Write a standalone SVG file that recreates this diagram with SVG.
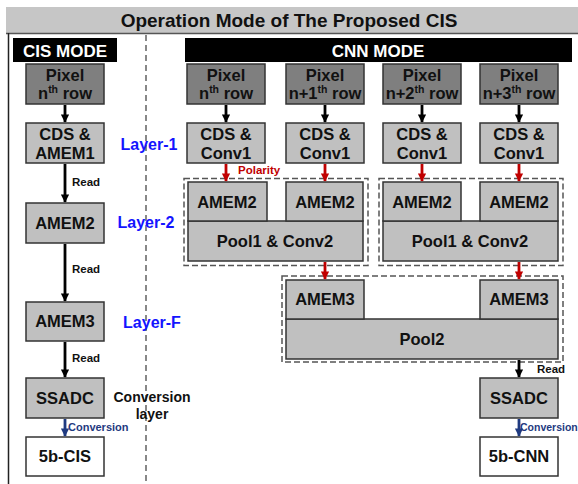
<svg xmlns="http://www.w3.org/2000/svg" width="578" height="484" viewBox="0 0 578 484">
<defs>
<style>
text{font-family:"Liberation Sans",Arial,sans-serif;font-weight:bold;}
.t{font-size:16.5px;fill:#111;text-anchor:middle;}
.px{fill:#7f7f7f;stroke:#333;stroke-width:1.5;}
.lg{fill:#c0c0c0;stroke:#333;stroke-width:1.5;}
.wh{fill:#fff;stroke:#333;stroke-width:1.5;}
.dash{fill:none;stroke:#555;stroke-width:1.5;stroke-dasharray:6,3;}
.blk{stroke:#000;stroke-width:2.8;fill:none;}
.red{stroke:#c00000;stroke-width:2.8;fill:none;}
.blu{stroke:#1f3a80;stroke-width:2.8;fill:none;}
.lay{font-size:16px;fill:#1414ff;text-anchor:middle;}
.sm{font-size:11.5px;fill:#111;}
.sup{font-size:10.5px;}
</style>
<marker id="ab" viewBox="0 0 10 10" refX="9" refY="5" markerWidth="3" markerHeight="3" orient="auto"><path d="M0,0L10,5L0,10z" fill="#000"/></marker>
<marker id="ar" viewBox="0 0 10 10" refX="9" refY="5" markerWidth="3" markerHeight="3" orient="auto"><path d="M0,0L10,5L0,10z" fill="#c00000"/></marker>
<marker id="au" viewBox="0 0 10 10" refX="9" refY="5" markerWidth="3" markerHeight="3" orient="auto"><path d="M0,0L10,5L0,10z" fill="#1f3a80"/></marker>
</defs>
<rect width="578" height="484" fill="#fff"/>
<g id="frame">
<rect x="6" y="7" width="580" height="26" fill="#c6c6c6"/>
<line x1="6" y1="33.5" x2="578" y2="33.5" stroke="#555" stroke-width="1.5"/>
<line x1="8.5" y1="33" x2="8.5" y2="484" stroke="#222" stroke-width="1.5"/>
<text x="289" y="27" style="font-size:19px;fill:#111;text-anchor:middle">Operation Mode of The Proposed CIS</text>
<line x1="146" y1="35" x2="146" y2="484" stroke="#888" stroke-width="2" stroke-dasharray="6,4"/>
</g>
<g id="cis-mode">
<rect x="13" y="38" width="104" height="24" fill="#000"/>
<text x="65" y="56.5" style="font-size:17px;fill:#fff;text-anchor:middle">CIS MODE</text>
</g>
<g id="cnn-mode">
<rect x="185" y="38" width="387" height="24" fill="#000"/>
<text x="378" y="56.5" style="font-size:17px;fill:#fff;text-anchor:middle">CNN MODE</text>
</g>
<g id="layer-labels">
<text class="lay" x="149" y="150">Layer-1</text>
<text class="lay" x="146" y="228">Layer-2</text>
<text class="lay" x="152" y="328">Layer-F</text>
<text x="152" y="402" style="font-size:14px;fill:#111;text-anchor:middle">Conversion</text>
<text x="152" y="419" style="font-size:14px;fill:#111;text-anchor:middle">layer</text>
</g>
<g id="cis-pixel"><rect class="px" x="26" y="64" width="78" height="40"/><text class="t" x="65" y="81">Pixel</text><text class="t" x="65" y="99">n<tspan class="sup" dy="-6">th</tspan><tspan dy="6"> row</tspan></text></g>
<g id="cis-cds"><rect class="lg" x="26" y="123" width="78" height="40"/><text class="t" x="65" y="140">CDS &amp;</text><text class="t" x="65" y="159">AMEM1</text></g>
<g id="cis-amem2"><rect class="lg" x="26" y="203" width="78" height="40"/><text class="t" x="65" y="229">AMEM2</text></g>
<g id="cis-amem3"><rect class="lg" x="26" y="302" width="78" height="39"/><text class="t" x="65" y="327">AMEM3</text></g>
<g id="cis-ssadc"><rect class="lg" x="26" y="378" width="78" height="40"/><text class="t" x="65" y="404">SSADC</text></g>
<g id="cis-out"><rect class="wh" x="26" y="437" width="78" height="39"/><text class="t" x="65" y="462">5b-CIS</text></g>
<g id="cnn-pixel-1"><rect class="px" x="187" y="64" width="78" height="40"/><text class="t" x="226" y="81">Pixel</text><text class="t" x="226" y="99">n<tspan class="sup" dy="-6">th</tspan><tspan dy="6"> row</tspan></text></g>
<g id="cnn-pixel-2"><rect class="px" x="286" y="64" width="78" height="40"/><text class="t" x="325" y="81">Pixel</text><text class="t" x="325" y="99">n+1<tspan class="sup" dy="-6">th</tspan><tspan dy="6"> row</tspan></text></g>
<g id="cnn-pixel-3"><rect class="px" x="383" y="64" width="78" height="40"/><text class="t" x="422" y="81">Pixel</text><text class="t" x="422" y="99">n+2<tspan class="sup" dy="-6">th</tspan><tspan dy="6"> row</tspan></text></g>
<g id="cnn-pixel-4"><rect class="px" x="480" y="64" width="78" height="40"/><text class="t" x="519" y="81">Pixel</text><text class="t" x="519" y="99">n+3<tspan class="sup" dy="-6">th</tspan><tspan dy="6"> row</tspan></text></g>
<g id="cnn-cds-1"><rect class="lg" x="187" y="123" width="78" height="40"/><text class="t" x="226" y="140">CDS &amp;</text><text class="t" x="226" y="159">Conv1</text></g>
<g id="cnn-cds-2"><rect class="lg" x="286" y="123" width="78" height="40"/><text class="t" x="325" y="140">CDS &amp;</text><text class="t" x="325" y="159">Conv1</text></g>
<g id="cnn-cds-3"><rect class="lg" x="383" y="123" width="78" height="40"/><text class="t" x="422" y="140">CDS &amp;</text><text class="t" x="422" y="159">Conv1</text></g>
<g id="cnn-cds-4"><rect class="lg" x="480" y="123" width="78" height="40"/><text class="t" x="519" y="140">CDS &amp;</text><text class="t" x="519" y="159">Conv1</text></g>
<g id="group-1">
<rect class="dash" x="184" y="178.5" width="184" height="87"/>
<rect class="lg" x="188" y="221" width="175" height="40"/>
<rect class="lg" x="188" y="182" width="79" height="39"/>
<rect class="lg" x="286" y="182" width="77" height="39"/>
<text class="t" x="227" y="208">AMEM2</text>
<text class="t" x="325" y="208">AMEM2</text>
<text class="t" x="275" y="247">Pool1 &amp; Conv2</text>
</g>
<g id="group-2">
<rect class="dash" x="379" y="178.5" width="184" height="87"/>
<rect class="lg" x="383" y="221" width="175" height="40"/>
<rect class="lg" x="383" y="182" width="78" height="39"/>
<rect class="lg" x="480" y="182" width="78" height="39"/>
<text class="t" x="422" y="208">AMEM2</text>
<text class="t" x="519" y="208">AMEM2</text>
<text class="t" x="470" y="247">Pool1 &amp; Conv2</text>
</g>
<g id="group-3">
<rect class="dash" x="282" y="276" width="281" height="86"/>
<rect class="lg" x="286" y="319" width="272" height="40"/>
<rect class="lg" x="286" y="280" width="78" height="39"/>
<rect class="lg" x="480" y="280" width="78" height="39"/>
<text class="t" x="325" y="305">AMEM3</text>
<text class="t" x="519" y="305">AMEM3</text>
<text class="t" x="422" y="345">Pool2</text>
</g>
<g id="cnn-ssadc"><rect class="lg" x="480" y="378" width="78" height="40"/><text class="t" x="519" y="404">SSADC</text></g>
<g id="cnn-out"><rect class="wh" x="480" y="437" width="78" height="39"/><text class="t" x="519" y="462">5b-CNN</text></g>
<g id="connectors">
<line class="blk" x1="65" y1="105" x2="65" y2="122" marker-end="url(#ab)"/>
<line class="blk" x1="65" y1="164" x2="65" y2="202" marker-end="url(#ab)"/>
<line class="blk" x1="65" y1="244" x2="65" y2="301" marker-end="url(#ab)"/>
<line class="blk" x1="65" y1="342" x2="65" y2="377" marker-end="url(#ab)"/>
<line class="blu" x1="65" y1="419" x2="65" y2="436" marker-end="url(#au)"/>
<text class="sm" x="72" y="186">Read</text>
<text class="sm" x="72" y="273">Read</text>
<text class="sm" x="72" y="362">Read</text>
<text x="68" y="431" style="font-size:11px;fill:#1f3a80">Conversion</text>
<line class="blk" x1="226" y1="105" x2="226" y2="122" marker-end="url(#ab)"/>
<line class="blk" x1="325" y1="105" x2="325" y2="122" marker-end="url(#ab)"/>
<line class="blk" x1="422" y1="105" x2="422" y2="122" marker-end="url(#ab)"/>
<line class="blk" x1="519" y1="105" x2="519" y2="122" marker-end="url(#ab)"/>
<line class="red" x1="226" y1="164" x2="226" y2="181" marker-end="url(#ar)"/>
<line class="red" x1="325" y1="164" x2="325" y2="181" marker-end="url(#ar)"/>
<line class="red" x1="422" y1="164" x2="422" y2="181" marker-end="url(#ar)"/>
<line class="red" x1="519" y1="164" x2="519" y2="181" marker-end="url(#ar)"/>
<text x="238" y="174" style="font-size:11.5px;fill:#c00000">Polarity</text>
<line class="red" x1="325" y1="262" x2="325" y2="279" marker-end="url(#ar)"/>
<line class="red" x1="519" y1="262" x2="519" y2="279" marker-end="url(#ar)"/>
<line class="blk" x1="519" y1="360" x2="519" y2="377" marker-end="url(#ab)"/>
<text class="sm" x="537" y="373">Read</text>
<line class="blu" x1="519" y1="419" x2="519" y2="436" marker-end="url(#au)"/>
<text x="520" y="431" style="font-size:10.5px;fill:#1f3a80">Conversion</text>
</g>
</svg>
